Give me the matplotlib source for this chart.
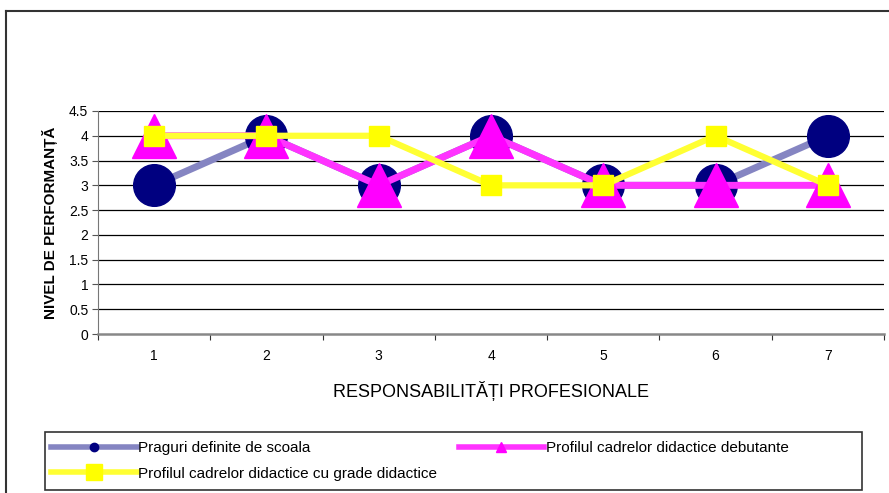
import matplotlib
matplotlib.use("Agg")
import matplotlib.pyplot as plt
from matplotlib.lines import Line2D
from matplotlib.patches import Rectangle

plt.rcParams['font.family'] = ['Liberation Sans', 'DejaVu Sans']

# data
categories = [1, 2, 3, 4, 5, 6, 7]
praguri = [3, 4, 3, 4, 3, 3, 4]
debutante = [4, 4, 3, 4, 3, 3, 3]
grade = [4, 4, 4, 3, 3, 4, 3]
yticks = [0, 0.5, 1, 1.5, 2, 2.5, 3, 3.5, 4, 4.5]

labels = ["Praguri definite de scoala",
          "Profilul cadrelor didactice debutante",
          "Profilul cadrelor didactice cu grade didactice"]

W, H = 889, 493
fig = plt.figure(figsize=(W / 100, H / 100), dpi=100)

# outer chart frame (right/bottom edges are cut off in the original)
fig.add_artist(Line2D([6/W, 6/W], [0, 1 - 11/H], transform=fig.transFigure, color='#333333', lw=1.5))
fig.add_artist(Line2D([6/W, 1], [1 - 11/H, 1 - 11/H], transform=fig.transFigure, color='#333333', lw=1.5))

ax = fig.add_axes([98/W, 1 - 334/H, (884 - 98)/W, (334 - 111)/H])

ax.plot(categories, praguri, color='#8585C2', lw=5, marker='o', ms=30,
        mfc='#000080', mec='#000080', zorder=3)
ax.plot(categories, debutante, color='#FF33FF', lw=5, marker='^', ms=32,
        mfc='#FF00FF', mec='#FF00FF', zorder=4)
ax.plot(categories, grade, color='#FFFF33', lw=4.5, marker='s', ms=14.5,
        mfc='#FFFF00', mec='#FFFF00', zorder=5)

ax.set_xlim(0.5, 7.5)
ax.set_ylim(0, 4.5)
ax.set_yticks(yticks)
ax.set_yticklabels([f"{v:g}" for v in yticks], fontsize=10)
for v in yticks[1:]:
    ax.axhline(v, color='black', lw=0.9, zorder=1)

# category labels centred, tick marks between categories
ax.set_xticks([c - 0.5 for c in categories] + [7.5])
ax.set_xticklabels([])
ax.set_xticks(categories, minor=True)
ax.set_xticklabels([str(c) for c in categories], minor=True, fontsize=10)
ax.tick_params(axis='x', which='minor', length=0, pad=11)
ax.tick_params(axis='x', which='major', length=4, direction='out', color='#333333')
ax.tick_params(axis='y', length=4, direction='out', color='#555555', pad=3)

for s in ['top', 'right']:
    ax.spines[s].set_visible(False)
ax.spines['left'].set_color('#777777')
ax.spines['bottom'].set_color('#888888')
ax.spines['bottom'].set_linewidth(1.8)

ax.set_xlabel("RESPONSABILITĂȚI PROFESIONALE", fontsize=13, labelpad=13)
ax.set_ylabel("NIVEL DE PERFORMANȚĂ", fontsize=11, fontweight='bold', labelpad=8)

# legend box
fig.add_artist(Rectangle((45/W, 1 - 490/H), (862 - 45)/W, 58/H, transform=fig.transFigure,
                         fill=False, edgecolor='#333333', lw=1.2))

# legend (column-wise fill -> order so that row 1 has first two series)
h1 = Line2D([], [], color='#8585C2', lw=4, marker='o', ms=6, mfc='#000080', mec='#000080')
h2 = Line2D([], [], color='#FF33FF', lw=4, marker='^', ms=7, mfc='#FF00FF', mec='#FF00FF')
h3 = Line2D([], [], color='#FFFF33', lw=4, marker='s', ms=11, mfc='#FFFF00', mec='#FFFF00')
leg = fig.legend([h1, h3, h2], [labels[0], labels[2], labels[1]], ncol=2,
                 loc='upper left', bbox_to_anchor=(45/W, 1 - 435/H),
                 fontsize=11, handlelength=5.6, handletextpad=0.1,
                 borderaxespad=0, borderpad=0.4, labelspacing=0.76,
                 columnspacing=1.4, frameon=False)

fig.savefig("out.png", dpi=100)
